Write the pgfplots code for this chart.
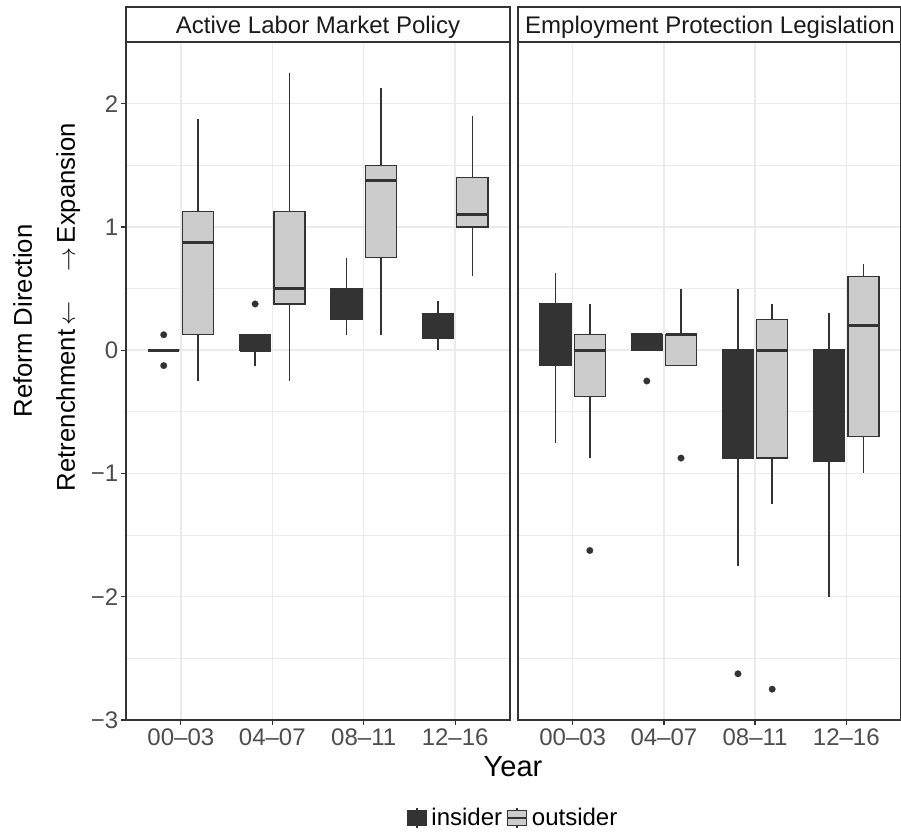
\documentclass[border=0pt]{standalone}
\usepackage{fontspec}
\setmainfont{Liberation Sans}
\usepackage{pgfplots}
\pgfplotsset{compat=1.18}
\usepgfplotslibrary{statistics}

\definecolor{gray10}{HTML}{1A1A1A}
\definecolor{gray20}{HTML}{333333}
\definecolor{gray30}{HTML}{4D4D4D}
\definecolor{gray80}{HTML}{CCCCCC}
\definecolor{gray92}{HTML}{EBEBEB}

\pgfplotsset{
  panel/.style={
    scale only axis, width=192pt, height=339pt,
    xmin=0.4, xmax=4.6, ymin=-3, ymax=2.5,
    xtick={1,2,3,4}, xticklabels={00–03,04–07,08–11,12–16},
    ytick={-3,-2,-1,0,1,2},
    minor ytick={-2.5,-1.5,-0.5,0.5,1.5,2.5},
    xmajorgrids, ymajorgrids, yminorgrids,
    major grid style={gray92, line width=0.7pt},
    minor grid style={gray92, line width=0.35pt},
    axis line style={gray20, line width=0.75pt},
    tick align=outside, tick pos=left,
    major tick length=2.5pt, minor tick length=0pt,
    tick style={gray20, line width=0.6pt},
    ticklabel style={font=\fontsize{12}{14}\selectfont, text=gray30},
    xticklabel style={inner sep=1.5pt},
    yticklabel style={inner sep=1.2pt},
    boxplot/draw direction=y,
  },
  box common/.style={
    draw=gray20, line width=0.7pt, solid,
    mark=*, mark size=1.65pt,
    mark options={draw=gray20, fill=gray20, line width=0.1pt},
    boxplot/draw direction=y,
    boxplot/box extend=0.34, boxplot/whisker extend=0,
    boxplot/every median/.style={line width=1.5pt},
  },
  ins/.style={box common, fill=gray20},
  out/.style={box common, fill=gray80},
}

% one prepared box: #1 style, #2 position, #3 lower whisker, #4 lower quartile,
% #5 median, #6 upper quartile, #7 upper whisker
\newcommand{\bx}[7]{%
  \addplot[#1, boxplot prepared={draw position=#2, lower whisker=#3,
    lower quartile=#4, median=#5, upper quartile=#6, upper whisker=#7}]}

\begin{document}
\begin{tikzpicture}
\path[use as bounding box] (0,0) rectangle (450.5pt,-416pt);

% Active Labor Market Policy
\begin{axis}[panel, at={(63pt,-360pt)}, anchor=south west,
  yticklabels={−3,−2,−1,0,1,2},
  legend columns=2,
  legend cell align=left,
  legend style={at={(1.0104,-0.1445)}, anchor=center, draw=none, fill=none,
    font=\fontsize{12}{14}\selectfont, inner sep=0pt,
    /tikz/every even column/.append style={column sep=0pt}},
]
\addlegendimage{legend image code/.code={
  \draw[gray20, line width=0.7pt] (5.25pt,-5pt) -- (5.25pt,5pt);
  \filldraw[fill=gray20, draw=gray20, line width=0.7pt] (0.4pt,-3.8pt) rectangle (10.1pt,3.8pt);}}
\addlegendentry{insider}
\addlegendimage{legend image code/.code={
  \draw[gray20, line width=0.7pt] (5.25pt,-5pt) -- (5.25pt,5pt);
  \filldraw[fill=gray80, draw=gray20, line width=0.7pt] (0.4pt,-3.8pt) rectangle (10.1pt,3.8pt);
  \draw[gray20, line width=1.2pt] (0.4pt,0pt) -- (10.1pt,0pt);}}
\addlegendentry{outsider}

\bx{ins}{0.8125}{0}{0}{0}{0}{0} coordinates {(0,0.125) (0,-0.125)};
\bx{out}{1.1875}{-0.25}{0.125}{0.875}{1.125}{1.875} coordinates {};
\bx{ins}{1.8125}{-0.125}{0}{0}{0.125}{0.125} coordinates {(0,0.375)};
\bx{out}{2.1875}{-0.25}{0.375}{0.5}{1.125}{2.25} coordinates {};
\bx{ins}{2.8125}{0.125}{0.25}{0.375}{0.5}{0.75} coordinates {};
\bx{out}{3.1875}{0.125}{0.75}{1.375}{1.5}{2.125} coordinates {};
\bx{ins}{3.8125}{0}{0.1}{0.2}{0.3}{0.4} coordinates {};
\bx{out}{4.1875}{0.6}{1.0}{1.1}{1.4}{1.9} coordinates {};
\end{axis}

% Employment Protection Legislation
\begin{axis}[panel, at={(259pt,-360pt)}, anchor=south west,
  width=191.5pt,
  yticklabels={}, ytick style={draw=none},
]
\bx{ins}{0.8125}{-0.75}{-0.125}{0.125}{0.375}{0.625} coordinates {};
\bx{out}{1.1875}{-0.875}{-0.375}{0}{0.125}{0.375} coordinates {(0,-1.625)};
\bx{ins}{1.8125}{0}{0}{0.125}{0.125}{0.125} coordinates {(0,-0.25)};
\bx{out}{2.1875}{-0.125}{-0.125}{0.125}{0.125}{0.5} coordinates {(0,-0.875)};
\bx{ins}{2.8125}{-1.75}{-0.875}{0}{0}{0.5} coordinates {(0,-2.625)};
\bx{out}{3.1875}{-1.25}{-0.875}{0}{0.25}{0.375} coordinates {(0,-2.75)};
\bx{ins}{3.8125}{-2.0}{-0.9}{-0.4}{0}{0.3} coordinates {};
\bx{out}{4.1875}{-1.0}{-0.7}{0.2}{0.6}{0.7} coordinates {};
\end{axis}

% facet strips
\draw[gray20, line width=0.75pt, fill=white] (63pt,-3.5pt) rectangle (255pt,-21pt);
\draw[gray20, line width=0.75pt, fill=white] (259pt,-3.5pt) rectangle (450.5pt,-21pt);
\node[anchor=base, text=gray10, font=\fontsize{12}{14}\selectfont, inner sep=0pt]
  at (159pt,-16.6pt) {Active Labor Market Policy};
\node[anchor=base, text=gray10, font=\fontsize{12}{14}\selectfont, inner sep=0pt]
  at (355pt,-16.6pt) {Employment Protection Legislation};

% axis titles
\node[anchor=base, font=\fontsize{14.5}{16}\selectfont, inner sep=0pt]
  at (256.5pt,-388pt) {Year};
\node[anchor=base, rotate=90, font=\fontsize{12.85}{15}\selectfont, inner sep=0pt]
  at (16pt,-160.5pt) {Reform Direction};
\node[anchor=base, rotate=90, font=\fontsize{12.85}{15}\selectfont, inner sep=0pt]
  at (37.5pt,-153.5pt) {Retrenchment\,$\leftarrow$\hspace{15pt}$\rightarrow$\,Expansion};
\end{tikzpicture}
\end{document}
